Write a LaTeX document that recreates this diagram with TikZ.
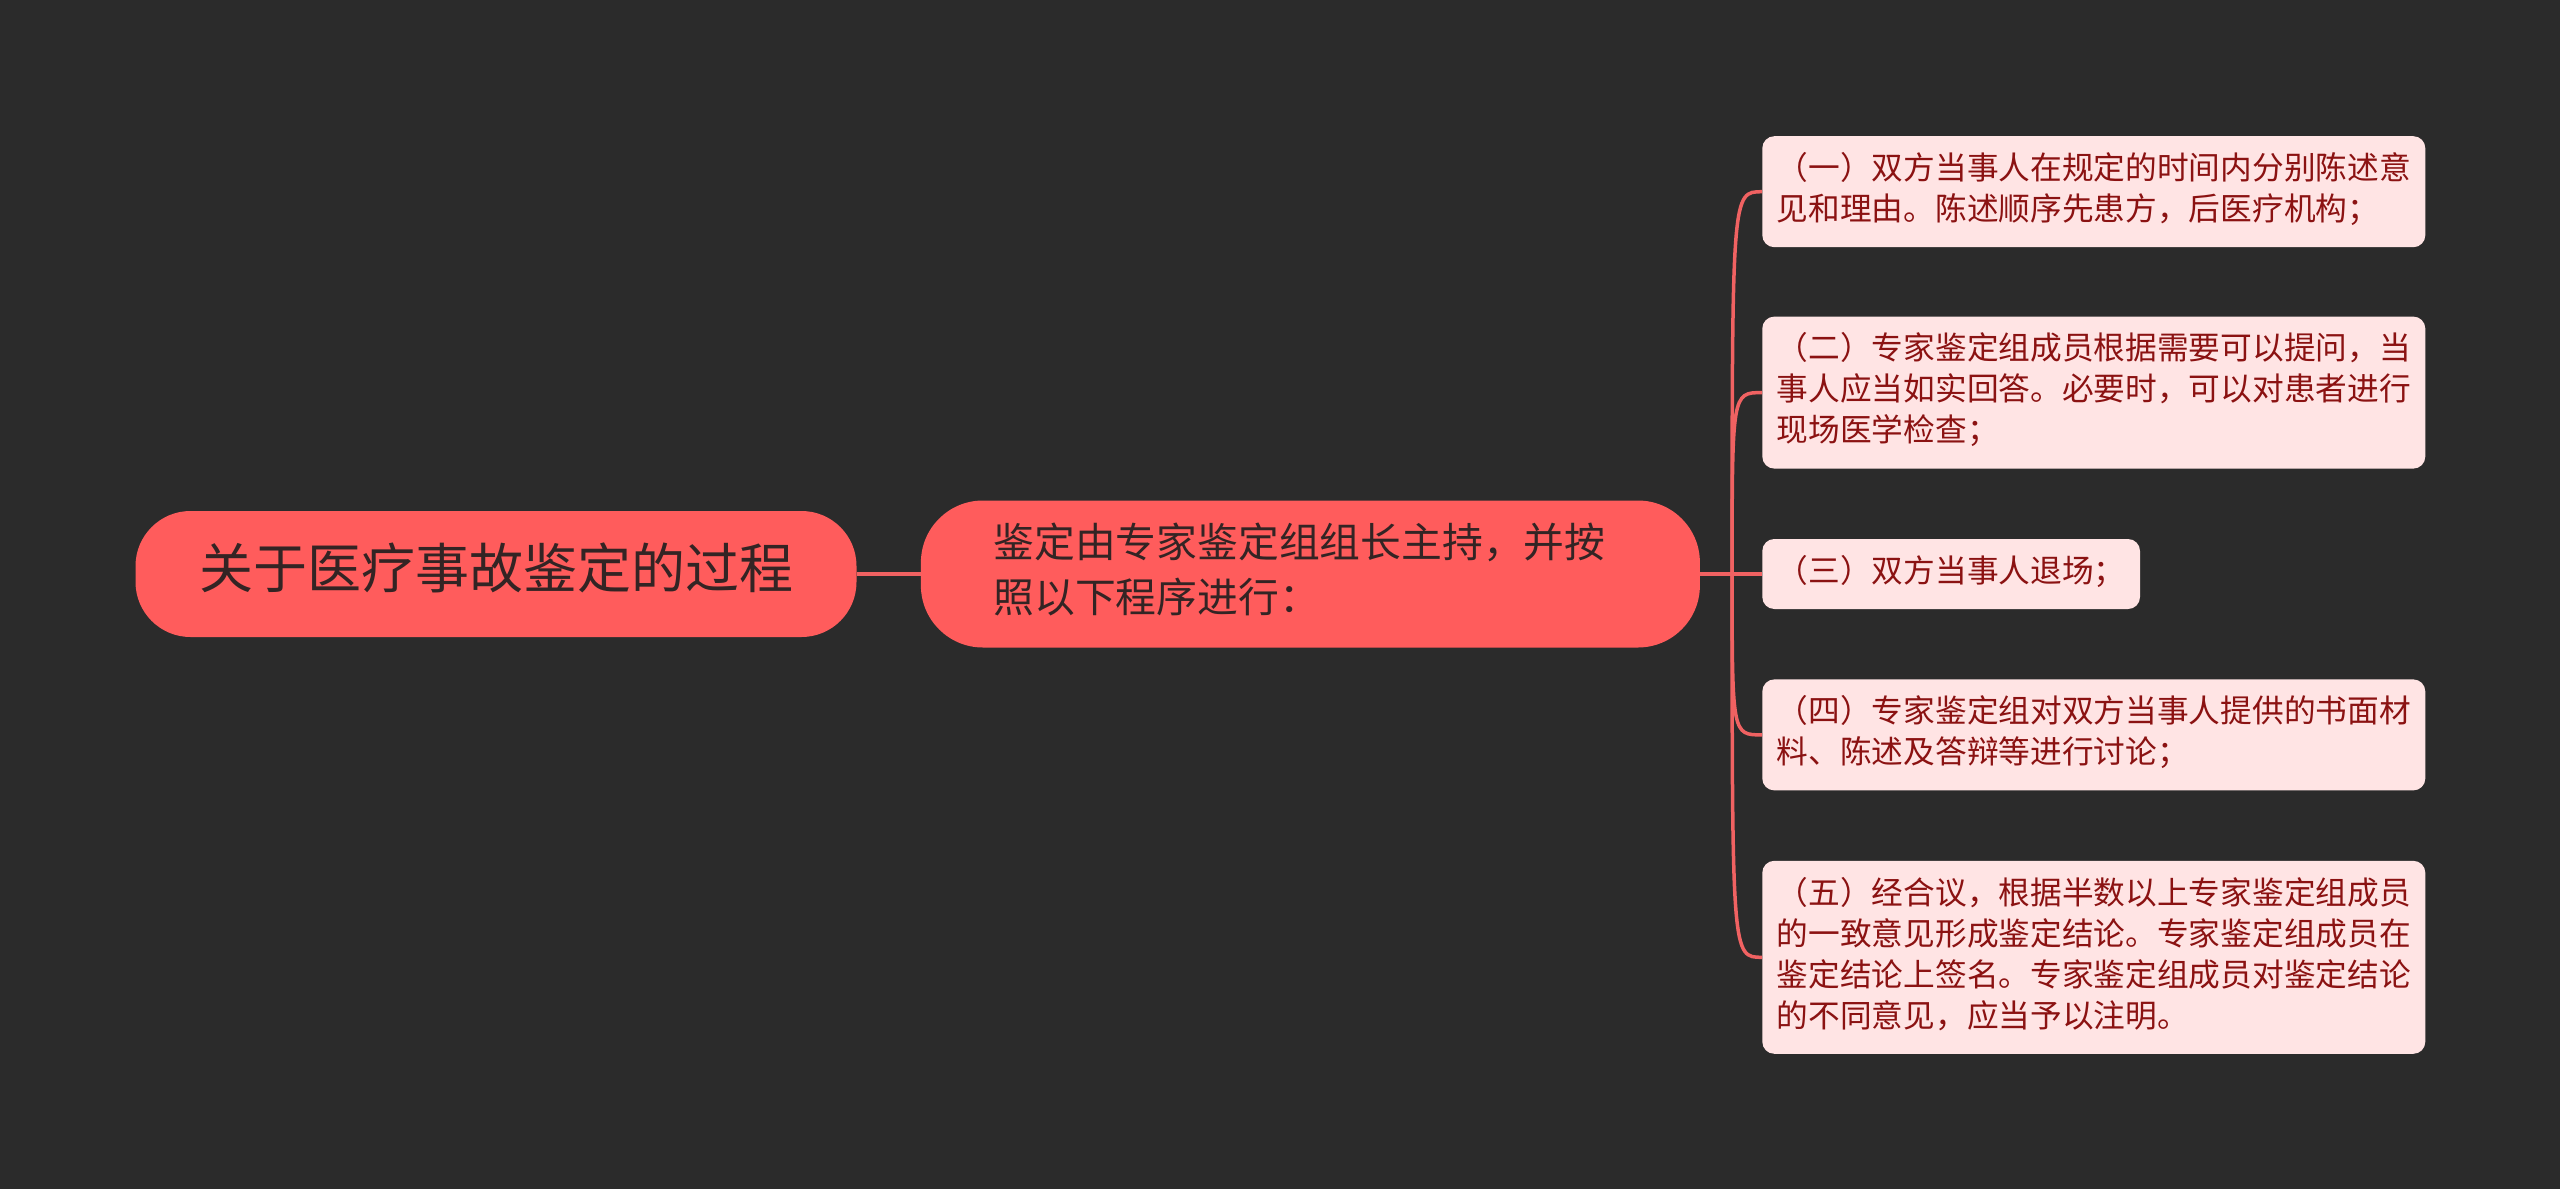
\documentclass[tikz,border=0pt]{standalone}
\usepackage{fontspec}
\setmainfont{Noto Sans CJK SC}
\usetikzlibrary{positioning,calc}
\definecolor{bg}{RGB}{43,43,43}
\definecolor{hot}{RGB}{255,92,92}
\definecolor{pale}{RGB}{255,228,228}
\definecolor{ink}{RGB}{51,36,36}
\definecolor{leafink}{RGB}{139,18,18}
\definecolor{wire}{RGB}{240,98,98}

\begin{document}
\begin{tikzpicture}[x=1pt, y=-1pt,
  rootbox/.style={fill=hot, rounded corners=55pt, minimum width=721pt, minimum height=126pt, inner sep=0pt, text=ink, font=\fontsize{54}{70}\selectfont},
  midbox/.style={fill=hot, rounded corners=62pt, minimum width=779pt, minimum height=147pt, inner sep=0pt, text width=634pt, align=left, text=ink, font=\fontsize{40.8}{55.5}\selectfont},
  leaf/.style={fill=pale, rounded corners=12pt, inner xsep=14.5pt, inner ysep=14.5pt, align=left, text=leafink, font=\fontsize{31.7}{41}\selectfont},
  link/.style={draw=wire, line width=3.5pt},
]
  \fill[bg] (0,0) rectangle (2560,1189);

  \node[rootbox] (root) at (496,574) {\strut 关于医疗事故鉴定的过程};
  \node[midbox, right=64pt of root] (mid) {\strut 鉴定由专家鉴定组组长主持，并按\\ 照以下程序进行：\strut};

  % steps of the procedure
  \node[leaf, right=62pt of mid] (l3) {\strut （三）双方当事人退场；};
  \node[leaf, above=70pt of l3.north west, anchor=south west] (l2) {\strut （二）专家鉴定组成员根据需要可以提问，当\\ 事人应当如实回答。必要时，可以对患者进行\\ 现场医学检查；\strut};
  \node[leaf, above=69pt of l2.north west, anchor=south west] (l1) {\strut （一）双方当事人在规定的时间内分别陈述意\\ 见和理由。陈述顺序先患方，后医疗机构；\strut};
  \node[leaf, below=70pt of l3.south west, anchor=north west] (l4) {\strut （四）专家鉴定组对双方当事人提供的书面材\\ 料、陈述及答辩等进行讨论；\strut};
  \node[leaf, below=70pt of l4.south west, anchor=north west] (l5) {\strut （五）经合议，根据半数以上专家鉴定组成员\\ 的一致意见形成鉴定结论。专家鉴定组成员在\\ 鉴定结论上签名。专家鉴定组成员对鉴定结论\\ 的不同意见，应当予以注明。\strut};

  \coordinate[right=32pt of mid.east] (fork);
  \draw[link] (root) -- (mid);
  \draw[link] (mid) -- (fork);
  \foreach \n in {l1,l2,l3,l4,l5}
    \draw[link] (fork) .. controls (fork |- \n.west) .. (\n.west);
\end{tikzpicture}
\end{document}
